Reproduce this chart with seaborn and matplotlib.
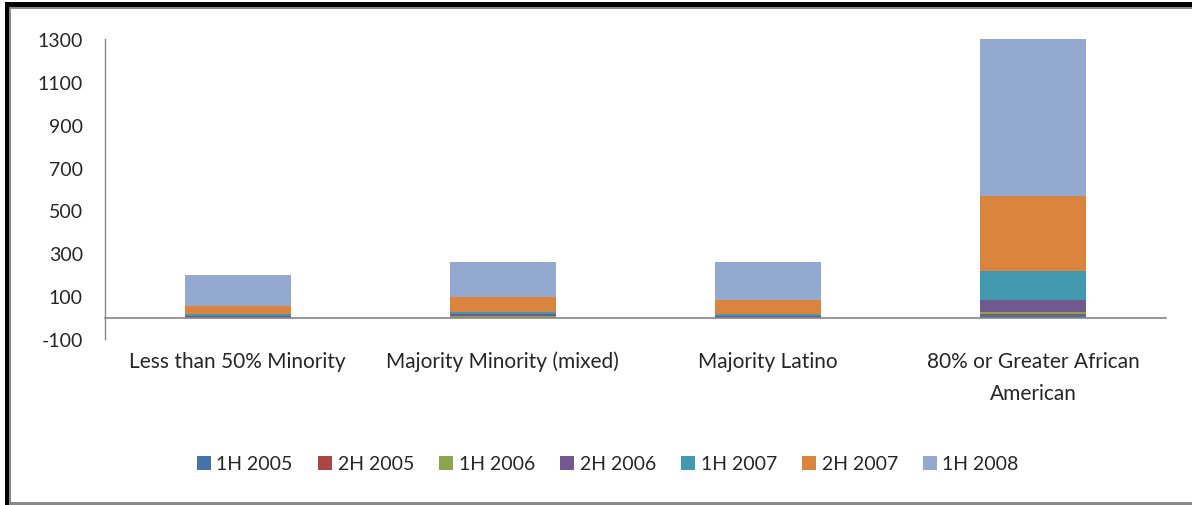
import numpy as np
import pandas as pd
import matplotlib
matplotlib.use("Agg")
import matplotlib.pyplot as plt
import seaborn as sns
from matplotlib.patches import Rectangle

categories = ['Less than 50% Minority', 'Majority Minority (mixed)',
              'Majority Latino', '80% or Greater African\nAmerican']
series = ['1H 2005', '2H 2005', '1H 2006', '2H 2006', '1H 2007', '2H 2007', '1H 2008']
h1_2005 = [2, 0, 2, 11]
h2_2005 = [0, 0, 0, 4]
h1_2006 = [1, 9, 0, 13]
h2_2006 = [6, 6, 7, 52]
h1_2007 = [10, 13, 10, 136]
h2_2007 = [37, 66, 62, 352]
h1_2008 = [144, 164, 177, 732]
colors = ['#4572A7', '#AA4643', '#89A54E', '#71588F', '#4198AF', '#DB843D', '#93A9CF']
yticks = [-100, 100, 300, 500, 700, 900, 1100, 1300]

sns.set_style("white")
plt.rcParams['font.family'] = ['Lato', 'DejaVu Sans']
plt.rcParams['axes.unicode_minus'] = False

values = np.array([h1_2005, h2_2005, h1_2006, h2_2006, h1_2007, h2_2007, h1_2008])
cum = values.cumsum(axis=0)

fig = plt.figure(figsize=(11.92, 5.06), dpi=100)
ax = fig.add_axes([105/1192, 1-340/506, (1166-105)/1192, 300/506])

# stacked bars: draw cumulative totals from top segment down
for i in range(len(series) - 1, -1, -1):
    df = pd.DataFrame({'cat': categories, 'val': cum[i]})
    sns.barplot(data=df, x='cat', y='val', color=colors[i], width=0.4,
                saturation=1, linewidth=0, ax=ax, label=series[i])
if ax.get_legend() is not None:
    ax.get_legend().remove()

ax.set_ylim(-100, 1300)
ax.set_xlim(-0.5, 3.5)
ax.set_yticks(yticks)
ax.set_xlabel('')
ax.set_ylabel('')

for s in ['top', 'right']:
    ax.spines[s].set_visible(False)
ax.spines['left'].set_color('#868686')
ax.spines['bottom'].set_color('#868686')
ax.spines['bottom'].set_position(('data', 0))
ax.spines['left'].set_linewidth(1)
ax.spines['bottom'].set_linewidth(1.2)

ax.tick_params(axis='y', length=4, color='#868686', width=1, labelsize=14, pad=12, direction='out')
ax.set_xticks([-0.5, 0.5, 1.5, 2.5, 3.5], minor=True)
ax.tick_params(axis='x', which='minor', length=7, color='#868686', width=1, direction='out')
ax.tick_params(axis='x', which='major', length=0, labelsize=15, pad=24)
ax.set_xticklabels(categories, multialignment='center', linespacing=1.75)

handles, labels = ax.get_legend_handles_labels()
handles, labels = handles[::-1], labels[::-1]
fig.legend(handles, labels, loc='center', bbox_to_anchor=(0.51, 1-465/506), ncol=7,
           frameon=False, fontsize=14, handlelength=0.7, handleheight=0.7,
           handletextpad=0.3, columnspacing=1.3)

# chart frame
W, H = 1192, 506
fig.add_artist(Rectangle((5/W, 0), 4/W, 1-3/H, transform=fig.transFigure, color='black', lw=0))
fig.add_artist(Rectangle((9/W, 0), 2/W, 1-8/H, transform=fig.transFigure, color='#888888', lw=0))
fig.add_artist(Rectangle((5/W, 1-8/H), 1, 5/H, transform=fig.transFigure, color='black', lw=0))
fig.add_artist(Rectangle((9/W, 1-10/H), 1, 2/H, transform=fig.transFigure, color='#888888', lw=0))
fig.add_artist(Rectangle((9/W, 0), 1, 3/H, transform=fig.transFigure, color='#888888', lw=0))

fig.savefig('out.png', dpi=100)
